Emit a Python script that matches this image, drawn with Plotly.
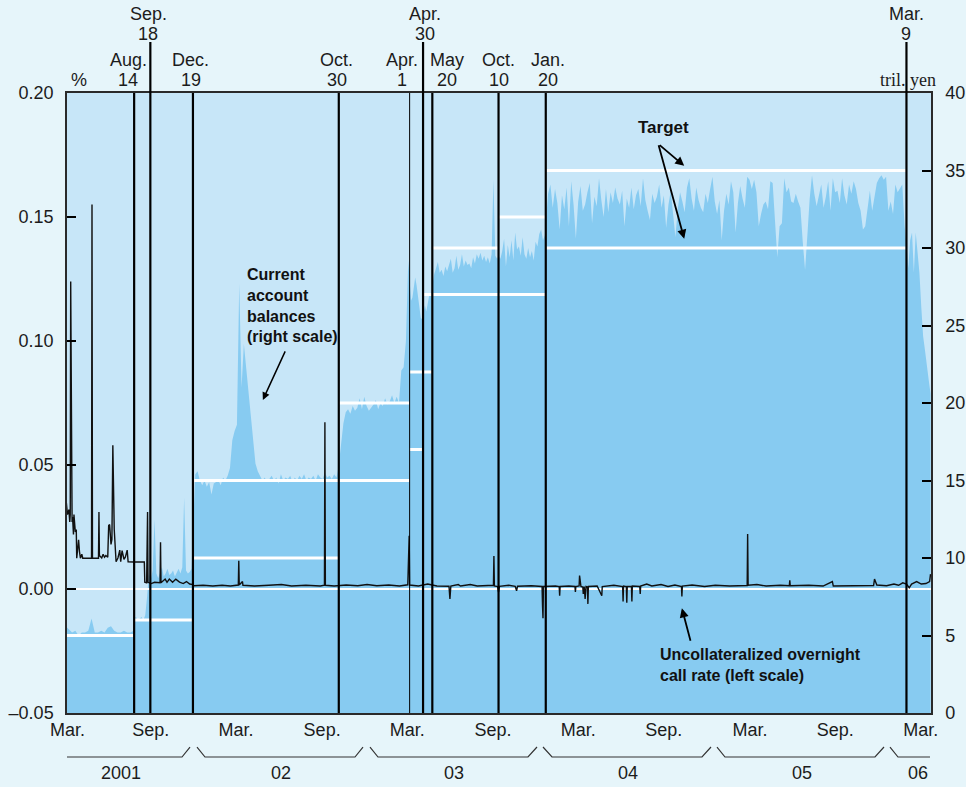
import pandas as pd
import plotly.graph_objects as go

# ---------------------------------------------------------------------------
# Current account balances at the Bank of Japan (trillion yen, right scale).
# Each block covers one target period, sampled every `step` days from its start.
# ---------------------------------------------------------------------------
cab_2001_spring = [5.6, 5.4, 5.2, 5.3, 5.0, 5.2, 5.2, 5.3, 6.1, 5.2, 5.2,
                   5.3, 5.2, 5.5, 5.6, 5.3, 5.2, 5.2, 5.3, 5.2, 5.2, 5.3]
cab_2001_autumn = [6.1, 6.2, 6.0, 6.1, 6.2, 6.0, 6.3, 7.5, 9.0, 8.6, 9.2,
                   12.5, 9.0, 8.7, 9.0, 9.4, 8.8, 9.0, 9.3, 8.9, 9.0, 9.2,
                   8.8, 9.1, 9.3, 9.0, 9.4, 13.9, 9.2, 9.0, 9.1, 9.3]
cab_2002 = [12.0, 15.4, 15.6, 15.0, 14.7, 15.0, 14.6, 14.9, 14.1, 14.8, 14.9,
            15.0, 14.7, 15.2, 15.0, 15.3, 15.8, 17.6, 18.2, 18.6, 27.7, 21.0,
            23.8, 22.3, 20.6, 19.4, 17.8, 16.1, 15.6, 15.3, 15.0, 15.2, 14.9,
            15.1, 15.3, 15.0, 15.2, 14.8, 15.4, 15.0, 15.2, 15.1, 15.3, 14.9,
            15.2, 15.0, 15.3, 15.1, 15.4, 15.0, 15.2, 15.1, 15.3, 15.0, 15.4,
            15.2, 15.1, 15.5, 15.2, 15.3, 15.1, 15.4, 15.2]
cab_2002_winter = [16.0, 17.3, 18.7, 19.4, 19.6, 19.3, 19.8, 19.5, 19.7, 20.3,
                   19.6, 20.4, 19.8, 19.5, 19.7, 19.9, 20.2, 19.6, 20.0, 19.8,
                   20.3, 19.9, 20.1, 20.5, 20.0, 20.4, 20.0, 22.1, 22.3, 24.0,
                   29.2]
cab_2003_april = [27.5, 26.6, 26.8, 27.4, 28.1, 27.6, 26.8, 26.2, 25.5, 25.4,
                  25.8, 26.3, 25.9, 26.5, 26.9, 27.0, 27.2]
cab_2003_summer = [27.6, 28.3, 28.7, 29.1, 28.4, 28.6, 28.2, 28.8, 28.5, 28.9,
                   29.3, 28.4, 28.7, 29.5, 28.6, 28.9, 29.6, 28.8, 29.2, 28.9,
                   29.0, 28.7, 29.4, 29.0, 29.6, 29.3, 29.7, 29.2, 29.5, 29.1,
                   29.4, 29.0, 29.6, 34.4, 29.5, 29.3]
cab_2003_autumn = [29.5, 29.3, 29.8, 30.6, 28.8, 30.2, 29.4, 30.5, 29.2, 31.0,
                   29.9, 30.1, 29.5, 30.7, 29.6, 29.3, 30.0, 29.4, 29.8, 29.2,
                   30.4, 30.1, 30.9, 31.2, 30.5, 30.8]
cab_2004_2006 = [31.8, 33.5, 34.1, 32.6, 33.8, 32.9, 31.2, 33.4, 32.5, 33.9,
                 31.4, 34.3, 32.8, 30.6, 33.0, 34.0, 32.4, 32.8, 33.6, 34.2,
                 31.6, 33.3, 32.7, 34.5, 33.1, 32.0, 33.8, 32.3, 33.6, 32.9,
                 33.9, 33.2, 32.8, 33.7, 31.4, 33.2, 32.6, 33.9, 32.5, 33.4,
                 33.8, 32.7, 34.5, 33.1, 32.4, 31.8, 33.5, 32.9, 33.3, 34.1,
                 32.6, 33.4, 31.3, 32.8, 33.7, 32.1, 30.7, 32.5, 33.6, 33.0,
                 32.3, 33.9, 34.5, 33.2, 32.4, 33.9, 33.1, 32.6, 32.3, 33.5,
                 32.9, 33.8, 34.6, 33.0, 32.2, 33.1, 30.5, 32.4, 33.5, 32.8,
                 34.3, 33.6, 31.0, 32.9, 34.0, 33.2, 32.6, 34.6, 34.4, 33.8,
                 34.4, 33.6, 31.4, 32.2, 32.8, 33.0, 32.5, 34.3, 34.2, 31.8,
                 29.4, 31.4, 31.6, 34.5, 33.6, 33.9, 33.0, 32.9, 33.5, 33.0,
                 32.6, 30.4, 28.6, 30.8, 33.2, 34.7, 33.5, 32.7, 33.4, 34.1,
                 32.6, 33.3, 34.3, 32.4, 34.5, 33.6, 33.7, 32.9, 34.5, 33.4,
                 32.8, 34.1, 33.5, 34.3, 33.8, 32.9, 32.4, 31.2, 31.4, 32.6,
                 33.7, 32.4, 33.4, 34.2, 34.5, 34.7, 34.4, 34.6, 32.4, 33.0,
                 32.2, 34.1, 33.6, 33.9, 34.1, 31.4]
cab_2006_exit = [30.3, 28.7, 30.5, 31.0, 28.4, 31.0, 29.9, 28.4, 26.2, 24.3,
                 23.4, 22.6, 21.5, 20.6]

cab_blocks = [
    ("2001-03-19", 7, cab_2001_spring),
    ("2001-08-14", 4, cab_2001_autumn),
    ("2001-12-19", 5, cab_2002),
    ("2002-10-30", 5, cab_2002_winter),
    ("2003-04-01", 3, cab_2003_april),
    ("2003-05-20", 4, cab_2003_summer),
    ("2003-10-10", 4, cab_2003_autumn),
    ("2004-01-20", 5, cab_2004_2006),
    ("2006-03-09", 4, cab_2006_exit),
]

# ---------------------------------------------------------------------------
# Current account balance targets (trillion yen): lower / upper bound
# ---------------------------------------------------------------------------
target_start = ["2001-03-19", "2001-08-14", "2001-12-19", "2002-10-30", "2003-04-01",
                "2003-04-30", "2003-05-20", "2003-10-10", "2004-01-20"]
target_end = ["2001-08-14", "2001-12-19", "2002-10-30", "2003-04-01", "2003-04-30",
              "2003-05-20", "2003-10-10", "2004-01-20", "2006-03-09"]
target_low = [5, 6, 10, 15, 17, 22, 27, 27, 30]
target_high = [None, None, 15, 20, 22, 27, 30, 32, 35]

# ---------------------------------------------------------------------------
# Uncollateralized overnight call rate (%, left scale)
# ---------------------------------------------------------------------------
call_dates = [
    "2001-03-19", "2001-03-21", "2001-03-23", "2001-03-26", "2001-03-28", "2001-03-29",
    "2001-03-30", "2001-04-02", "2001-04-03", "2001-04-05", "2001-04-06", "2001-04-09",
    "2001-04-11", "2001-04-12", "2001-04-16", "2001-04-18", "2001-04-20", "2001-04-23",
    "2001-04-25", "2001-05-14", "2001-05-15", "2001-05-16", "2001-05-29", "2001-05-30",
    "2001-05-31", "2001-06-05", "2001-06-08", "2001-06-11", "2001-06-14", "2001-06-18",
    "2001-06-20", "2001-06-22", "2001-06-25", "2001-06-27", "2001-06-29", "2001-07-02",
    "2001-07-04", "2001-07-06", "2001-07-10", "2001-07-14", "2001-07-16", "2001-07-19",
    "2001-07-23", "2001-07-26", "2001-07-30", "2001-08-01", "2001-08-14", "2001-09-05",
    "2001-09-06", "2001-09-10", "2001-09-12", "2001-09-13", "2001-09-20", "2001-09-27",
    "2001-10-09", "2001-10-10", "2001-10-11", "2001-10-20", "2001-10-24", "2001-10-29",
    "2001-11-05", "2001-11-12", "2001-11-20", "2001-11-28", "2001-12-05", "2001-12-12",
    "2001-12-19", "2001-12-21",
    "2002-01-10", "2002-01-31", "2002-02-20", "2002-03-10", "2002-03-27", "2002-03-28",
    "2002-03-29", "2002-04-05", "2002-04-06", "2002-05-01", "2002-06-01", "2002-06-28",
    "2002-07-20", "2002-08-20", "2002-09-20", "2002-09-29", "2002-09-30", "2002-10-01",
    "2002-10-20", "2002-11-15", "2002-12-10", "2002-12-30",
    "2003-01-20", "2003-02-15", "2003-03-10", "2003-03-28", "2003-03-31", "2003-04-01",
    "2003-04-20", "2003-05-10", "2003-05-30", "2003-06-25", "2003-06-27", "2003-06-29",
    "2003-07-15", "2003-07-20", "2003-08-10", "2003-08-25", "2003-09-29", "2003-09-30",
    "2003-10-01", "2003-10-08", "2003-10-10", "2003-10-12", "2003-11-01", "2003-11-15",
    "2003-11-18", "2003-11-20", "2003-12-20", "2004-01-12", "2004-01-13", "2004-01-14",
    "2004-01-15",
    "2004-01-30", "2004-02-10", "2004-02-18", "2004-02-19", "2004-02-20", "2004-03-10",
    "2004-03-23", "2004-03-24", "2004-03-25", "2004-04-01", "2004-04-02", "2004-04-05",
    "2004-04-09", "2004-04-10", "2004-04-12", "2004-04-14", "2004-04-16", "2004-04-19",
    "2004-04-20", "2004-04-21", "2004-05-10", "2004-05-20", "2004-05-21", "2004-06-15",
    "2004-07-04", "2004-07-05", "2004-07-06", "2004-07-12", "2004-07-13", "2004-07-14",
    "2004-07-23", "2004-07-24", "2004-07-25", "2004-08-10", "2004-08-11", "2004-08-12",
    "2004-08-25", "2004-09-05", "2004-09-25", "2004-10-10", "2004-10-25", "2004-11-08",
    "2004-11-09", "2004-11-10", "2004-12-01", "2004-12-28",
    "2005-01-20", "2005-02-20", "2005-03-30", "2005-03-31", "2005-04-01", "2005-04-20",
    "2005-05-10", "2005-06-10", "2005-06-29", "2005-06-30", "2005-07-01", "2005-08-10",
    "2005-09-10", "2005-09-30", "2005-10-02", "2005-11-01", "2005-12-01", "2005-12-28",
    "2005-12-30", "2006-01-04", "2006-01-25", "2006-02-10", "2006-02-20", "2006-03-01",
    "2006-03-09", "2006-03-15", "2006-03-20", "2006-03-31", "2006-04-10", "2006-04-20",
    "2006-04-28", "2006-04-30",
]
call_rates = [
    0.038, 0.034, 0.030, 0.032, 0.027, 0.030,
    0.124, 0.027, 0.029, 0.022, 0.030, 0.023,
    0.024, 0.0124, 0.0198, 0.015, 0.0124, 0.014,
    0.0124, 0.0124, 0.155, 0.0124, 0.0124, 0.031,
    0.0135, 0.0125, 0.014, 0.0128, 0.0135, 0.0128,
    0.0256, 0.026, 0.018, 0.020, 0.058, 0.024,
    0.016, 0.011, 0.0125, 0.0157, 0.011, 0.0155,
    0.012, 0.0128, 0.0157, 0.011, 0.0109, 0.0109,
    0.0027, 0.0025, 0.031, 0.0027, 0.0022, 0.0027,
    0.0025, 0.0188, 0.0025, 0.0040, 0.0027, 0.0040,
    0.0027, 0.0040, 0.0028, 0.0022, 0.0030, 0.0020,
    0.0018, 0.0013,
    0.0015, 0.0012, 0.0015, 0.0012, 0.0016, 0.0114,
    0.0016, 0.0030, 0.0015, 0.0012, 0.0015, 0.0018,
    0.0012, 0.0015, 0.0012, 0.0015, 0.0672, 0.0015,
    0.0012, 0.0016, 0.0013, 0.0018,
    0.0013, 0.0016, 0.0012, 0.0017, 0.0215, 0.0016,
    0.0012, 0.0020, 0.0012, 0.0011, -0.0040, 0.0012,
    0.0018, 0.0012, 0.0018, 0.0012, 0.0015, 0.0133,
    0.0012, 0.0010, -0.0013, 0.0011, 0.0015, 0.0011,
    -0.0007, 0.0011, 0.0013, 0.0010, -0.0066, -0.0118,
    0.0010,
    0.0012, 0.0012, 0.0010, -0.0027, 0.0010, 0.0012,
    0.0010, -0.0012, 0.0010, 0.0012, 0.0054, 0.0010,
    0.0008, -0.0020, 0.0010, -0.0040, 0.0010, 0.0008,
    -0.0060, 0.0010, 0.0012, -0.0027, 0.0010, 0.0015,
    0.0010, -0.0050, 0.0012, 0.0010, -0.0055, 0.0010,
    0.0010, -0.0050, 0.0012, 0.0010, -0.0020, 0.0012,
    0.0020, 0.0012, 0.0018, 0.0010, 0.0016, 0.0010,
    -0.0030, 0.0012, 0.0016, 0.0010,
    0.0015, 0.0012, 0.0014, 0.0222, 0.0015, 0.0018,
    0.0012, 0.0015, 0.0013, 0.0035, 0.0013, 0.0015,
    0.0012, 0.0030, 0.0012, 0.0013, 0.0016, 0.0014,
    0.0040, 0.0016, 0.0013, 0.0020, 0.0015, 0.0025,
    0.0020, 0.0005, 0.0020, 0.0030, 0.0020, 0.0022,
    0.0030, 0.0060,
]

# ---------------------------------------------------------------------------
# Policy events marked with vertical lines
# ---------------------------------------------------------------------------
event_dates = ["2001-08-14", "2001-09-18", "2001-12-19", "2002-10-30", "2003-04-01",
               "2003-04-30", "2003-05-20", "2003-10-10", "2004-01-20", "2006-03-09"]
event_month = ["Aug.", "Sep.", "Dec.", "Oct.", "Apr.", "Apr.", "May", "Oct.", "Jan.", "Mar."]
event_day = ["14", "18", "19", "30", "1", "30", "20", "10", "20", "9"]

# Axis labels
month_tick_dates = ["2001-03-23", "2001-09-19", "2002-03-22", "2002-09-24", "2003-03-27",
                    "2003-09-28", "2004-03-30", "2004-10-01", "2005-04-05", "2005-10-06",
                    "2006-04-09"]
month_tick_text = ["Mar.", "Sep.", "Mar.", "Sep.", "Mar.", "Sep.", "Mar.", "Sep.",
                   "Mar.", "Sep.", "Mar."]
year_labels = ["2001", "02", "03", "04", "05", "06"]
pct_ticks = [-0.05, 0.0, 0.05, 0.10, 0.15, 0.20]
pct_tick_text = ["\u20130.05", "0.00", "0.05", "0.10", "0.15", "0.20"]
yen_ticks = [0, 5, 10, 15, 20, 25, 30, 35, 40]

# ---------------------------------------------------------------------------
# Styling / geometry
# ---------------------------------------------------------------------------
W, H = 966, 787
M_L, M_R, M_T, M_B = 67, 35, 93, 74
PW, PH = W - M_L - M_R, H - M_T - M_B
X_START, X_END = "2001-03-22", "2006-05-01"

PAPER = "#E6F5FA"
PLOT_BG = "#C7E6F8"
FILL = "#87CBF1"
FRAME = "#2a2a2a"
INK = "#1c1c1c"
FONT = "Liberation Sans, Arial, sans-serif"
TXT = 18


def px_x(p):
    return (p - M_L) / PW


def px_y(p):
    return (M_T + PH - p) / PH


# Assemble the balance series
cab_x, cab_y = [], []
for start, step, vals in cab_blocks:
    dates = pd.date_range(start, periods=len(vals), freq=f"{step}D")
    cab_x.extend(dates.strftime("%Y-%m-%d"))
    cab_y.extend(vals)

# Target segments (white bars)
tx, ty = [], []
for s, e, lo, hi in zip(target_start, target_end, target_low, target_high):
    for level in (lo, hi):
        if level is None:
            continue
        tx += [s, e, None]
        ty += [level, level, None]

fig = go.Figure()
fig.add_trace(go.Scatter(
    x=cab_x, y=cab_y, yaxis="y", mode="lines",
    line=dict(width=0, color=FILL), fill="tozeroy", fillcolor=FILL,
    hoverinfo="skip", showlegend=False))
fig.add_trace(go.Scatter(
    x=tx, y=ty, yaxis="y", mode="lines", connectgaps=False,
    line=dict(color="white", width=3), hoverinfo="skip", showlegend=False))
fig.add_trace(go.Scatter(
    x=[X_START, X_END], y=[0, 0], yaxis="y2", mode="lines",
    line=dict(color="white", width=2), hoverinfo="skip", showlegend=False))
fig.add_trace(go.Scatter(
    x=call_dates, y=call_rates, yaxis="y2", mode="lines",
    line=dict(color="#111111", width=1.4), hoverinfo="skip", showlegend=False))

shapes = []
annotations = []

# Event lines and their date labels
tall_events = {"2001-09-18", "2003-04-30", "2006-03-09"}
label_shift = {"2001-08-14": -6, "2001-09-18": -2, "2001-12-19": -2, "2002-10-30": -2,
               "2003-04-01": -8, "2003-04-30": 2, "2003-05-20": 15, "2003-10-10": 0,
               "2004-01-20": 2, "2006-03-09": 0}
for d, mon, day in zip(event_dates, event_month, event_day):
    tall = d in tall_events
    shapes.append(dict(
        type="line", xref="x", yref="paper", x0=d, x1=d, y0=0,
        y1=px_y(42) if tall else 1,
        line=dict(color="black", width=1 if d == "2003-04-01" else 2.2), layer="above"))
    y1, y2 = (14.5, 33.5) if tall else (60.5, 80)
    for txt, yy in ((mon, y1), (day, y2)):
        annotations.append(dict(
            x=d, xref="x", y=px_y(yy), yref="paper", text=txt, showarrow=False,
            xanchor="center", yanchor="middle", xshift=label_shift[d],
            font=dict(size=TXT, color=INK, family=FONT)))

# Year brackets below the month labels
bracket_paths = [
    [(67, 757), (182, 757), (190, 747)],
    [(197, 747), (205, 757), (355, 757), (363, 747)],
    [(370, 747), (378, 757), (528, 757), (537, 747)],
    [(543, 747), (552, 757), (702, 757), (711, 747)],
    [(717, 747), (725, 757), (875, 757), (884, 747)],
    [(890, 747), (898, 757), (930, 757)],
]
year_centers = [121, 281, 454, 628, 802, 918]
for pts, label, cx in zip(bracket_paths, year_labels, year_centers):
    path = "M " + " L ".join(f"{px_x(a):.5f},{px_y(b):.5f}" for a, b in pts)
    shapes.append(dict(type="path", xref="paper", yref="paper", path=path,
                       line=dict(color="#333333", width=1.2)))
    annotations.append(dict(x=px_x(cx), y=px_y(772.5), xref="paper", yref="paper",
                            text=label, showarrow=False, xanchor="center", yanchor="middle",
                            font=dict(size=TXT, color=INK, family=FONT)))

# Unit labels
annotations.append(dict(x=px_x(69), y=px_y(80.5), xref="paper", yref="paper", text="%",
                        showarrow=False, xanchor="left", yanchor="middle",
                        font=dict(size=TXT, color=INK, family=FONT)))
annotations.append(dict(x=px_x(938), y=px_y(80.5), xref="paper", yref="paper",
                        text="tril. yen", showarrow=False, xanchor="right", yanchor="middle",
                        font=dict(size=18, color=INK,
                                  family="Liberation Serif, Times New Roman, serif")))

# Series captions and pointers
BOLD = dict(size=16, color="#111111", family=FONT, weight="bold")
annotations.append(dict(x=px_x(663.5), y=px_y(128), xref="paper", yref="paper",
                        text="Target", showarrow=False, xanchor="center",
                        yanchor="middle", font=dict(BOLD, size=17)))
for head_y, ay in ((35.3, -22), (30.6, -95)):
    annotations.append(dict(x="2004-11-14", y=head_y, xref="x", yref="y", text="",
                            showarrow=True, ax=-26, ay=ay, arrowhead=2, arrowsize=1,
                            arrowwidth=1.8, arrowcolor="black"))
annotations.append(dict(x=px_x(245), y=px_y(305), xref="paper", yref="paper",
                        text="Current<br>account<br>balances<br>(right scale)",
                        showarrow=False, xanchor="left", yanchor="middle", align="left",
                        font=BOLD))
annotations.append(dict(x="2002-05-19", y=20.2, xref="x", yref="y", text="",
                        showarrow=True, ax=23, ay=-50, arrowhead=2, arrowsize=1,
                        arrowwidth=1.5, arrowcolor="black"))
annotations.append(dict(x=px_x(658), y=px_y(665.4), xref="paper", yref="paper",
                        text="Uncollateralized overnight<br>call rate (left scale)",
                        showarrow=False, xanchor="left", yanchor="middle", align="left",
                        font=BOLD))
annotations.append(dict(x="2004-11-09", y=-0.0078, xref="x", yref="y2", text="",
                        showarrow=True, ax=9, ay=34, arrowhead=2, arrowsize=1,
                        arrowwidth=1.8, arrowcolor="black"))

axis_common = dict(showgrid=False, zeroline=False, showline=True, linecolor=FRAME,
                   linewidth=1.5, automargin=False,
                   tickfont=dict(size=TXT, color=INK, family=FONT))

fig.update_layout(
    width=W, height=H,
    margin=dict(l=M_L, r=M_R, t=M_T, b=M_B, pad=0, autoexpand=False),
    paper_bgcolor=PAPER, plot_bgcolor=PLOT_BG,
    showlegend=False, hovermode=False,
    font=dict(family=FONT, size=TXT, color=INK),
    xaxis=dict(type="date", range=[X_START, X_END], tickvals=month_tick_dates,
               ticktext=month_tick_text, ticks="", mirror=True, **axis_common),
    yaxis=dict(side="right", range=[0, 40], tickvals=yen_ticks,
               ticks="inside", ticklen=9, tickwidth=2, tickcolor="black",
               ticklabelstandoff=9, **axis_common),
    yaxis2=dict(side="left", overlaying="y", range=[-0.05, 0.20], tickvals=pct_ticks,
                ticktext=pct_tick_text, ticks="inside", ticklen=9, tickwidth=2,
                tickcolor="black", ticklabelstandoff=8, **axis_common),
    shapes=shapes,
    annotations=annotations,
)

fig.write_html("out.html")
